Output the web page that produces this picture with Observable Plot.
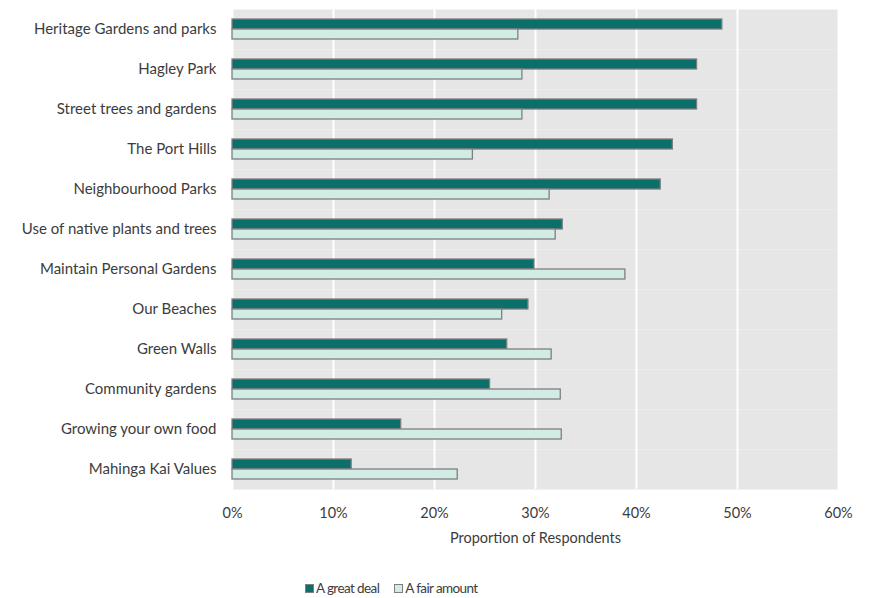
<!DOCTYPE html>
<html>
<head>
<meta charset="utf-8">
<script src="https://cdn.jsdelivr.net/npm/d3@7"></script>
<script src="https://cdn.jsdelivr.net/npm/@observablehq/plot@0.6"></script>
<style>
  body { margin: 0; background: #fff; font-family: Lato, sans-serif; }
  #wrap { position: relative; width: 874px; height: 598px; }
  #legend { position: absolute; top: 580px; left: 305px; display: flex; align-items: center; font-size: 13.5px; letter-spacing: -0.6px; color: #3c3c3c; white-space: nowrap; }
  .sw { width: 7px; height: 7px; border: 1px solid #7f7f7f; display: inline-block; margin-right: 2px; }
  .item { display: flex; align-items: center; margin-right: 15px; }
  #chart svg g[aria-label="fy-axis tick label"] text { font-size: 15px; }
</style>
</head>
<body>
<div id="wrap">
  <div id="chart"></div>
  <div id="legend"></div>
</div>
<script>
const categories = [
  "Heritage Gardens and parks",
  "Hagley Park",
  "Street trees and gardens",
  "The Port Hills",
  "Neighbourhood Parks",
  "Use of native plants and trees",
  "Maintain Personal Gardens",
  "Our Beaches",
  "Green Walls",
  "Community gardens",
  "Growing your own food",
  "Mahinga Kai Values"
];
const greatDeal  = [48.5, 46.0, 46.0, 43.6, 42.4, 32.7, 29.9, 29.3, 27.2, 25.5, 16.7, 11.8];
const fairAmount = [28.3, 28.7, 28.7, 23.8, 31.4, 32.0, 38.9, 26.7, 31.6, 32.5, 32.6, 22.3];
const series = ["A great deal", "A fair amount"];
const colors = ["#0b6f6b", "#d1ebe5"];
const xTicks = [0, 10, 20, 30, 40, 50, 60];

const data = categories.flatMap((c, i) => [
  {category: c, series: series[0], value: greatDeal[i]},
  {category: c, series: series[1], value: fairAmount[i]}
]);

const chart = Plot.plot({
  width: 874,
  height: 570,
  marginLeft: 232,
  marginRight: 36,
  marginTop: 7,
  marginBottom: 80,
  style: {fontFamily: "Lato, sans-serif", fontSize: "14.5px", color: "#3c3c3c", background: "white"},
  x: {
    domain: [0, 60],
    ticks: xTicks,
    tickFormat: d => d + "%",
    tickSize: 0,
    tickPadding: 18,
    label: "Proportion of Respondents",
    labelAnchor: "center",
    labelArrow: "none",
    labelOffset: 53
  },
  fy: {domain: categories, padding: 0, label: null, axis: "left", tickSize: 0, tickPadding: 16},
  y: {domain: series, axis: null, paddingInner: 0, paddingOuter: 0.83},
  color: {domain: series, range: colors},
  marks: [
    Plot.frame({fill: "#e6e6e6"}),
    Plot.gridX(xTicks, {stroke: "white", strokeOpacity: 1, strokeWidth: 2}),
    Plot.barX(data, {x: "value", y: "series", fy: "category", fill: "series", stroke: "#7f7f7f", strokeWidth: 1.3})
  ]
});
document.getElementById("chart").appendChild(chart);

const legend = document.getElementById("legend");
series.forEach((s, i) => {
  const item = document.createElement("div");
  item.className = "item";
  const sw = document.createElement("span");
  sw.className = "sw";
  sw.style.background = colors[i];
  item.appendChild(sw);
  item.appendChild(document.createTextNode(s));
  legend.appendChild(item);
});
</script>
</body>
</html>
